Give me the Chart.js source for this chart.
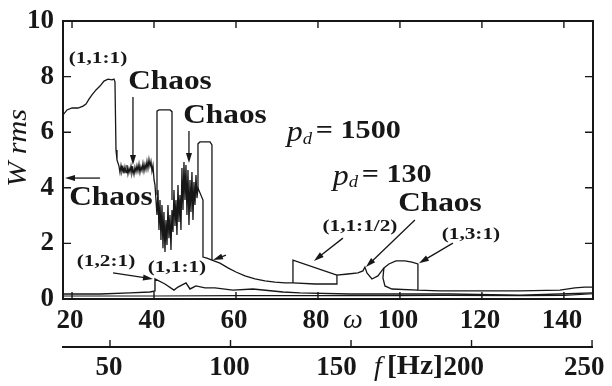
<!DOCTYPE html>
<html>
<head>
<meta charset="utf-8">
<script src="https://cdn.jsdelivr.net/npm/chart.js@4.4.1/dist/chart.umd.min.js"></script>
<style>
  html, body { margin: 0; padding: 0; background: #fff; }
  canvas { display: block; }
</style>
</head>
<body>
<canvas id="wChart" width="612" height="386"></canvas>
<script>
// axis ticks
const omegaTicks = [20, 40, 60, 80, 100, 120, 140];
const freqTicks = [50, 100, 150, 200, 250];
const wTicks = [0, 2, 4, 6, 8, 10];

// p_d = 1500 : forward sweep (plateau, chaos, low branch)
const hiOmega = [
  17.8, 18.78, 20.0, 21.46, 22.68, 23.41, 24.14, 24.87, 25.85, 26.82, 27.8, 28.78, 29.75, 30.24, 30.48, 30.73, 30.97, 31.46,
  31.7, 31.95, 32.19, 32.44, 32.68, 32.92, 33.17, 33.41, 33.65, 33.9, 34.14, 34.39, 34.63, 34.87, 35.12, 35.36, 35.6, 35.85,
  36.09, 36.34, 36.58, 36.82, 37.07, 37.31, 37.56, 37.8, 38.04, 38.29, 38.53, 38.78, 39.02, 39.26, 39.51, 39.75, 40.0, 40.24,
  40.48, 40.73, 40.97, 41.21, 41.46, 41.7, 41.95, 42.19, 42.43, 42.68, 42.92, 43.17, 43.41, 43.65, 43.9, 44.14, 44.39, 44.63,
  44.87, 45.12, 45.36, 45.6, 45.85, 46.09, 46.34, 46.58, 46.82, 47.07, 47.31, 47.56, 47.8, 48.04, 48.29, 48.53, 48.78, 49.02,
  49.26, 49.51, 49.75, 50.0, 50.24, 50.48, 50.73,
  51.95, 51.95, 52.92, 54.14, 56.09, 58.04, 59.99, 62.19, 64.63, 67.07, 69.51, 71.95, 73.9, 79.26, 84.63, 84.63, 87.31, 89.75,
  90.97, 91.46, 91.95, 93.17, 94.63, 96.09, 97.31, 99.02, 101.21, 102.92, 104.39, 104.39, 109.75, 119.51, 129.26, 139.02,
  142.68, 145.12, 147.07
];
const hiW = [
  6.62, 6.80, 6.87, 6.87, 6.94, 7.01, 7.19, 7.34, 7.52, 7.66, 7.84, 7.91, 7.88, 7.91, 7.81, 5.36, 5.00, 4.78,
  4.55, 4.80, 4.58, 4.72, 4.52, 4.75, 4.55, 4.82, 4.50, 4.70, 4.56, 4.78, 4.52, 4.68, 4.48, 4.74, 4.57, 4.80,
  4.60, 4.85, 4.55, 4.76, 4.62, 4.88, 4.60, 4.84, 4.66, 4.95, 4.70, 5.02, 4.78, 4.95, 4.60, 4.80, 4.30, 4.10,
  3.56, 3.02, 3.92, 2.48, 3.56, 2.12, 3.38, 1.83, 3.13, 1.69, 2.84, 1.94, 3.38, 2.19, 3.02, 1.76, 3.20, 2.41,
  3.92, 2.63, 3.56, 2.30, 4.10, 2.77, 3.74, 2.48, 4.71, 3.20, 4.93, 3.56, 4.82, 3.02, 4.64, 2.66, 4.28, 3.13,
  4.57, 2.84, 4.21, 3.38, 4.46, 3.63, 3.99,
  3.56, 1.51, 1.47, 1.40, 1.29, 1.12, 0.97, 0.83, 0.72, 0.65, 0.61, 0.58, 0.58, 0.54, 0.54, 0.86, 0.90, 0.94,
  1.01, 1.15, 0.94, 0.72, 0.83, 1.12, 1.26, 1.37, 1.37, 1.33, 1.26, 0.32, 0.29, 0.29, 0.29, 0.32,
  0.40, 0.43, 0.43
];

// p_d = 1500 : jump branches
const jumpAOmega = [40.73, 40.73, 41.22, 43.90, 44.39, 44.39];
const jumpAW = [3.74, 6.76, 6.80, 6.80, 6.74, 3.56];
const jumpBOmega = [50.73, 50.73, 51.22, 53.66, 54.14, 54.14];
const jumpBW = [3.92, 5.58, 5.65, 5.65, 5.54, 1.40];
const halfOmega = [73.9, 73.9, 84.63];
const halfW = [0.58, 1.40, 0.86];
const thirdOmega = [96.09, 95.85, 96.34, 98.04, 104.39];
const thirdW = [1.12, 0.76, 0.47, 0.36, 0.32];

// p_d = 130
const loOmega = [
  17.8, 26.82, 34.14, 39.02, 40.24, 40.24, 42.68, 44.87, 45.85, 47.8, 48.78, 50.24, 52.43, 54.87, 59.26, 64.14,
  71.46, 75.61, 87.8, 112.19, 129.26, 139.02, 147.07
];
const loW = [
  0.18, 0.18, 0.22, 0.25, 0.29, 0.72, 0.54, 0.32, 0.43, 0.58, 0.36, 0.47, 0.40, 0.40, 0.32, 0.36,
  0.25, 0.22, 0.18, 0.18, 0.14, 0.18, 0.22
];
const loBackOmega = [17.8, 40.24, 60, 100, 110, 130, 140, 147.07];
const loBackW = [0.11, 0.11, 0.12, 0.12, 0.13, 0.12, 0.13, 0.19];

const ink = '#171717';
const serif = '"Liberation Serif", "Times New Roman", serif';

function pts(xs, ys) {
  return xs.map((v, i) => ({ x: v, y: ys[i] }));
}

function curve(xs, ys, width) {
  return {
    data: pts(xs, ys),
    showLine: true,
    borderColor: ink,
    borderWidth: width || 1.3,
    pointRadius: 0,
    tension: 0
  };
}

// labels and pointers inside the plot, in (omega, W)
const notes = [
  { text: '(1,1:1)', at: [26.34, 8.63], size: 17, sx: 1.25 },
  { text: 'Chaos', at: [43.9, 7.81], size: 27, sx: 1.16 },
  { text: 'Chaos', at: [57.31, 6.58], size: 27, sx: 1.16 },
  { text: 'Chaos', at: [29.51, 3.63], size: 27, sx: 1.16 },
  { text: 'Chaos', at: [109.75, 3.42], size: 27, sx: 1.16 },
  { text: '(1,1:1/2)', at: [90.24, 2.59], size: 17, sx: 1.25 },
  { text: '(1,3:1)', at: [117.31, 2.3], size: 17, sx: 1.25 },
  { text: '(1,2:1)', at: [28.29, 1.33], size: 17, sx: 1.25 },
  { text: '(1,1:1)', at: [45.6, 1.12], size: 17, sx: 1.25 }
];
const pointers = [
  [[34.87, 7.27], [34.87, 4.82]],
  [[48.53, 6.04], [48.53, 4.89]],
  [[26.82, 4.35], [18.29, 4.35]],
  [[103.65, 2.84], [91.7, 1.15]],
  [[86.09, 2.19], [79.02, 1.37]],
  [[112.92, 2.01], [104.63, 1.29]],
  [[30.0, 0.94], [39.75, 0.72]],
  [[57.56, 1.58], [54.39, 1.40]]
];

function text(ctx, str, x, y, font, sx, align) {
  ctx.save();
  ctx.font = font;
  ctx.textAlign = align || 'center';
  ctx.textBaseline = 'middle';
  ctx.translate(x, y);
  ctx.scale(sx || 1, 1);
  ctx.fillText(str, 0, 0);
  ctx.restore();
}

function arrow(ctx, x1, y1, x2, y2) {
  const a = Math.atan2(y2 - y1, x2 - x1);
  const len = 10, half = 3;
  const c = Math.cos(a), s = Math.sin(a);
  ctx.beginPath();
  ctx.moveTo(x1, y1);
  ctx.lineTo(x2 - c * len * 0.7, y2 - s * len * 0.7);
  ctx.stroke();
  ctx.beginPath();
  ctx.moveTo(x2, y2);
  ctx.lineTo(x2 - c * len + s * half, y2 - s * len - c * half);
  ctx.lineTo(x2 - c * len - s * half, y2 - s * len + c * half);
  ctx.closePath();
  ctx.fill();
}

const framePlugin = {
  id: 'frame',
  afterDraw(chart) {
    const { ctx, chartArea: a } = chart;
    const { x, y, f } = chart.scales;
    ctx.save();
    ctx.strokeStyle = ink;
    ctx.fillStyle = ink;

    // plot box with inward ticks
    ctx.lineWidth = 2;
    ctx.strokeRect(a.left, a.top, a.right - a.left, a.bottom - a.top);
    ctx.lineWidth = 1.4;
    ctx.beginPath();
    omegaTicks.forEach(v => {
      const px = x.getPixelForValue(v);
      ctx.moveTo(px, a.bottom); ctx.lineTo(px, a.bottom - 7);
      ctx.moveTo(px, a.top); ctx.lineTo(px, a.top + 7);
    });
    wTicks.slice(1, -1).forEach(v => {
      const py = y.getPixelForValue(v);
      ctx.moveTo(a.left, py); ctx.lineTo(a.left + 8, py);
      ctx.moveTo(a.right, py); ctx.lineTo(a.right - 8, py);
    });
    ctx.stroke();

    // frequency axis line
    ctx.lineWidth = 2;
    ctx.beginPath();
    ctx.moveTo(f.left - 1, f.top);
    ctx.lineTo(f.right, f.top);
    ctx.stroke();
    ctx.lineWidth = 1.4;
    ctx.beginPath();
    freqTicks.forEach(v => {
      const px = f.getPixelForValue(v);
      ctx.moveTo(px, f.top); ctx.lineTo(px, f.top - 7);
    });
    ctx.stroke();

    // axis names
    text(ctx, '\u03c9', x.getPixelForValue(88.5), a.bottom + 22, 'italic 28px ' + serif, 1);
    const fx = f.getPixelForValue(159.5);
    text(ctx, 'f', fx, f.top + 21, 'italic 28px ' + serif, 1, 'left');
    text(ctx, '[Hz]', fx + 13, f.top + 20, 'bold 27px ' + serif, 1.1, 'left');
    ctx.save();
    ctx.translate(19, 148);
    ctx.rotate(-Math.PI / 2);
    text(ctx, 'W rms', 0, 0, 'italic 27px ' + serif, 1.12);
    ctx.restore();

    // in-plot labels
    notes.forEach(n => {
      text(ctx, n.text, x.getPixelForValue(n.at[0]), y.getPixelForValue(n.at[1]),
        'bold ' + n.size + 'px ' + serif, n.sx);
    });
    const px1 = x.getPixelForValue(72.4), py1 = y.getPixelForValue(6.04);
    text(ctx, 'p', px1, py1 + 2, 'italic 29px ' + serif, 1.1, 'left');
    text(ctx, 'd', px1 + 16, py1 + 8, 'italic 17px ' + serif, 1.1, 'left');
    text(ctx, '= 1500', px1 + 29, py1, 'bold 26px ' + serif, 1.16, 'left');
    const px2 = x.getPixelForValue(83.6), py2 = y.getPixelForValue(4.46);
    text(ctx, 'p', px2, py2 + 2, 'italic 29px ' + serif, 1.1, 'left');
    text(ctx, 'd', px2 + 16, py2 + 8, 'italic 17px ' + serif, 1.1, 'left');
    text(ctx, '= 130', px2 + 29, py2, 'bold 26px ' + serif, 1.16, 'left');

    ctx.lineWidth = 1.3;
    pointers.forEach(p => {
      arrow(ctx, x.getPixelForValue(p[0][0]), y.getPixelForValue(p[0][1]),
        x.getPixelForValue(p[1][0]), y.getPixelForValue(p[1][1]));
    });
    ctx.restore();
  }
};

const tickFont = { family: serif, size: 27, weight: 'bold' };
// frequency labels sit a little left of their ticks; 150 makes room for the unit
const freqLabel = v => v === 150 ? '150    ' : (v >= 200 ? v + '  ' : String(v));

new Chart(document.getElementById('wChart'), {
  type: 'scatter',
  data: {
    datasets: [
      curve(hiOmega, hiW, 1.3),
      curve(jumpAOmega, jumpAW, 1.3),
      curve(jumpBOmega, jumpBW, 1.3),
      curve(halfOmega, halfW, 1.3),
      curve(thirdOmega, thirdW, 1.3),
      curve(loOmega, loW, 1.4),
      curve(loBackOmega, loBackW, 1.1)
    ]
  },
  options: {
    responsive: false,
    animation: false,
    devicePixelRatio: 1,
    layout: { padding: { top: 21, right: 19, bottom: 0, left: 0 } },
    plugins: { legend: { display: false }, tooltip: { enabled: false } },
    scales: {
      x: {
        type: 'linear', position: 'bottom', weight: 0,
        min: 17.8, max: 147.1,
        grid: { display: false, drawTicks: false }, border: { display: false },
        afterBuildTicks: s => { s.ticks = omegaTicks.map(v => ({ value: v })); },
        afterFit: s => { s.height = 48; s.paddingLeft = 0; s.paddingRight = 0; },
        ticks: { font: tickFont, color: ink, padding: 6, maxRotation: 0, labelOffset: -2 }
      },
      f: {
        type: 'linear', position: 'bottom', weight: 1,
        min: 30.5, max: 250.4,
        grid: { display: false, drawTicks: false }, border: { display: false },
        afterBuildTicks: s => { s.ticks = freqTicks.map(v => ({ value: v })); },
        afterFit: s => { s.height = 39; s.paddingLeft = 0; s.paddingRight = 0; },
        ticks: { font: tickFont, color: ink, padding: 5, maxRotation: 0, labelOffset: -1, callback: freqLabel }
      },
      y: {
        type: 'linear', min: 0, max: 10,
        grid: { display: false, drawTicks: false }, border: { display: false },
        afterBuildTicks: s => { s.ticks = wTicks.map(v => ({ value: v })); },
        afterFit: s => { s.width = 63; s.paddingTop = 0; s.paddingBottom = 0; },
        ticks: { font: tickFont, color: ink, padding: 9 }
      }
    }
  },
  plugins: [framePlugin]
});
</script>
</body>
</html>
